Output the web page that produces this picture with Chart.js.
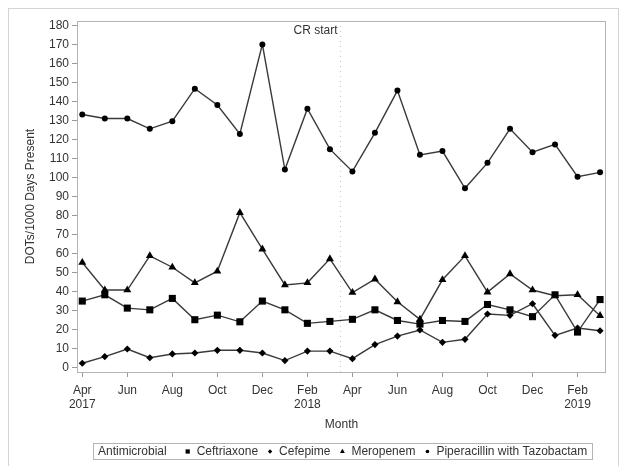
<!DOCTYPE html>
<html>
<head>
<meta charset="utf-8">
<script src="https://cdn.jsdelivr.net/npm/chart.js@4"></script>
<style>
  html, body { margin: 0; padding: 0; background: #fff; }
  #wrap { width: 621px; height: 466px; position: relative; }
</style>
</head>
<body>
<div id="wrap"><canvas id="chart" width="621" height="466"></canvas></div>
<script>
const months = [
  'Apr 2017', 'May 2017', 'Jun 2017', 'Jul 2017', 'Aug 2017', 'Sep 2017',
  'Oct 2017', 'Nov 2017', 'Dec 2017', 'Jan 2018', 'Feb 2018', 'Mar 2018',
  'Apr 2018', 'May 2018', 'Jun 2018', 'Jul 2018', 'Aug 2018', 'Sep 2018',
  'Oct 2018', 'Nov 2018', 'Dec 2018', 'Jan 2019', 'Feb 2019', 'Mar 2019'
];
const tickLabels = [
  ['Apr', '2017'], 'Jun', 'Aug', 'Oct', 'Dec', ['Feb', '2018'],
  'Apr', 'Jun', 'Aug', 'Oct', 'Dec', ['Feb', '2019']
];
const yTicks = [0, 10, 20, 30, 40, 50, 60, 70, 80, 90, 100, 110, 120, 130, 140, 150, 160, 170, 180];

const ceftriaxone = [35.0, 38.3, 31.3, 30.4, 36.4, 25.2, 27.6, 24.1, 35.0, 30.4, 23.3, 24.3,
                     25.4, 30.4, 24.8, 22.9, 24.8, 24.3, 33.2, 30.4, 26.8, 38.3, 18.7, 35.8];
const cefepime = [2.3, 5.8, 9.8, 5.2, 7.2, 7.7, 9.1, 9.1, 7.7, 3.7, 8.7, 8.7,
                  4.7, 12.1, 16.6, 19.8, 13.3, 14.9, 28.2, 27.5, 33.6, 17.0, 20.8, 19.4];
const meropenem = [55.3, 40.8, 40.8, 58.8, 52.8, 44.6, 50.7, 81.5, 62.3, 43.5, 44.6, 57.2,
                   39.5, 46.5, 34.6, 25.4, 46.2, 58.8, 39.7, 49.3, 40.8, 37.8, 38.3, 27.3];
const piperacillin = [133.1, 131.0, 131.0, 125.6, 129.6, 146.7, 138.1, 122.9, 170.0, 104.2, 136.2, 114.9,
                      103.2, 123.5, 145.7, 111.9, 113.9, 94.3, 107.7, 125.6, 113.3, 117.4, 100.4, 102.7];

const crStart = 11.45; // between Mar and Apr 2018

const FONT = '"Liberation Sans", Arial, sans-serif';
const textColor = '#333';

function series(label, values, pointStyle, radius) {
  return {
    label: label,
    data: values.map((v, i) => ({ x: i, y: v })),
    borderColor: '#3a3a3a',
    borderWidth: 1.4,
    pointStyle: pointStyle,
    pointRadius: radius,
    pointBackgroundColor: '#000',
    pointBorderColor: '#000',
    pointBorderWidth: 0,
    tension: 0
  };
}

const decorPlugin = {
  id: 'decor',
  beforeDraw(chart) {
    const ctx = chart.ctx;
    ctx.save();
    ctx.fillStyle = '#fff';
    ctx.fillRect(0, 0, chart.width, chart.height);
    ctx.strokeStyle = '#d4d4d4';
    ctx.lineWidth = 1;
    ctx.strokeRect(8.5, 8.5, 610, 480);
    ctx.restore();
  },
  beforeDatasetsDraw(chart) {
    const ctx = chart.ctx;
    const a = chart.chartArea;
    const x = Math.round(chart.scales.x.getPixelForValue(crStart)) + 0.5;
    ctx.save();
    ctx.strokeStyle = '#c8c8c8';
    ctx.lineWidth = 1;
    ctx.setLineDash([1, 4]);
    ctx.beginPath();
    ctx.moveTo(x, a.top);
    ctx.lineTo(x, a.bottom);
    ctx.stroke();
    ctx.setLineDash([]);
    ctx.fillStyle = textColor;
    ctx.font = '12px ' + FONT;
    ctx.textAlign = 'right';
    ctx.textBaseline = 'middle';
    ctx.fillText('CR start', x - 3, a.top + 10);
    ctx.restore();
  },
  afterDraw(chart) {
    const ctx = chart.ctx;
    const a = chart.chartArea;
    ctx.save();
    // plot frame
    ctx.strokeStyle = '#b4b4b4';
    ctx.lineWidth = 1;
    ctx.strokeRect(Math.round(a.left) - 0.5, Math.round(a.top) + 0.5,
                   Math.round(a.right - a.left) + 1, Math.round(a.bottom - a.top));

    // legend
    ctx.font = '12px ' + FONT;
    ctx.textBaseline = 'middle';
    ctx.textAlign = 'left';
    const title = 'Antimicrobial';
    const items = chart.data.datasets;
    let total = 5 + ctx.measureText(title).width + 18;
    items.forEach((d, i) => {
      total += 12 + ctx.measureText(d.label).width + (i < items.length - 1 ? 9 : 0);
    });
    total += 5;
    const boxTop = 443, boxH = 16;
    const boxLeft = Math.round(343 - total / 2);
    ctx.strokeStyle = '#b4b4b4';
    ctx.strokeRect(boxLeft + 0.5, boxTop + 0.5, Math.round(total), boxH);
    const cy = boxTop + boxH / 2 + 0.5;
    let x = boxLeft + 5;
    ctx.fillStyle = textColor;
    ctx.fillText(title, x, cy);
    x += ctx.measureText(title).width + 18;
    items.forEach(d => {
      ctx.fillStyle = '#000';
      ctx.strokeStyle = '#000';
      Chart.helpers.drawPoint(ctx, { pointStyle: d.pointStyle, radius: d.pointRadius * 0.6, rotation: 0, borderWidth: 0 }, x + 3, cy);
      ctx.fillStyle = textColor;
      ctx.fillText(d.label, x + 12, cy);
      x += 12 + ctx.measureText(d.label).width + 9;
    });
    ctx.restore();
  }
};

new Chart(document.getElementById('chart'), {
  type: 'line',
  data: {
    datasets: [
      series('Ceftriaxone', ceftriaxone, 'rect', 5),
      series('Cefepime', cefepime, 'rectRot', 3.6),
      series('Meropenem', meropenem, 'triangle', 4.6),
      series('Piperacillin with Tazobactam', piperacillin, 'circle', 3)
    ]
  },
  options: {
    responsive: false,
    animation: false,
    devicePixelRatio: 1,
    layout: { padding: { left: 0, top: 21, right: 16, bottom: 34 } },
    plugins: {
      legend: { display: false },
      tooltip: { enabled: false }
    },
    scales: {
      x: {
        type: 'linear',
        min: -0.19,
        max: 23.22,
        afterBuildTicks: scale => {
          scale.ticks = tickLabels.map((t, i) => ({ value: i * 2 }));
        },
        afterFit: scale => { scale.height = 60; },
        ticks: {
          autoSkip: false,
          maxRotation: 0,
          padding: 6,
          color: textColor,
          font: { family: FONT, size: 12 },
          callback: (value, index) => tickLabels[index]
        },
        grid: { drawOnChartArea: false, drawTicks: true, tickLength: 5, color: '#999' },
        border: { display: false },
        title: {
          display: true,
          text: 'Month',
          color: textColor,
          font: { family: FONT, size: 12 },
          padding: { top: 0, bottom: 0 }
        }
      },
      y: {
        min: -2.3,
        max: 182.3,
        afterBuildTicks: scale => {
          scale.ticks = yTicks.map(v => ({ value: v }));
        },
        afterFit: scale => { scale.width = 78; },
        ticks: {
          padding: 3,
          color: textColor,
          font: { family: FONT, size: 12 }
        },
        grid: { drawOnChartArea: false, drawTicks: true, tickLength: 6, color: '#999' },
        border: { display: false },
        title: {
          display: true,
          text: 'DOTs/1000 Days Present',
          color: textColor,
          font: { family: FONT, size: 12 },
          padding: { top: 23, bottom: 0 }
        }
      }
    }
  },
  plugins: [decorPlugin]
});
</script>
</body>
</html>
